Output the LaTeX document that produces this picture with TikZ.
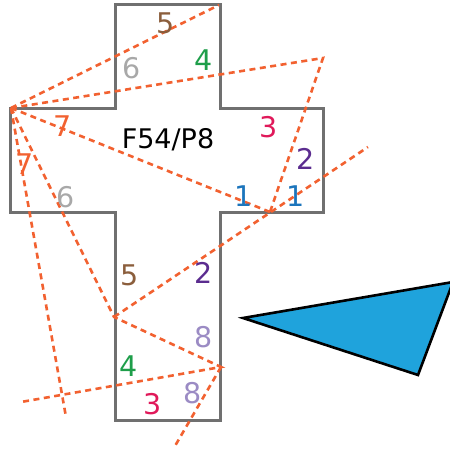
\documentclass[tikz,border=0pt]{standalone}
\usepackage{fontspec}
\setmainfont{DejaVu Sans}
\usetikzlibrary{positioning}
\definecolor{rayorange}{HTML}{F26130}
\definecolor{wallgray}{HTML}{707070}
\definecolor{prism}{HTML}{1FA3DC}
\definecolor{c1}{HTML}{1C75BC}
\definecolor{c2}{HTML}{5B2C8F}
\definecolor{c3}{HTML}{E0195A}
\definecolor{c4}{HTML}{1E9E4A}
\definecolor{c5}{HTML}{8B5E3C}
\definecolor{c6}{HTML}{A8A8A8}
\definecolor{c7}{HTML}{F26130}
\definecolor{c8}{HTML}{9B8BC4}

\begin{document}
\begin{tikzpicture}[x=1pt, y=-1pt,
  ray/.style={draw=rayorange, line width=2.6pt, dash pattern=on 6pt off 4.5pt},
  wall/.style={draw=wallgray, line width=3pt},
  lab/.style={inner sep=0pt, font=\fontsize{28.5}{30}\selectfont}]
\useasboundingbox (0,0) rectangle (450,451);
\clip (0,0) rectangle (450,451);

% cross-shaped room
\draw[wall] (115,4) -- (220,4) -- (220,108) -- (323,108) -- (323,212) -- (220,212)
  -- (220,420) -- (115,420) -- (115,212) -- (10,212) -- (10,108) -- (115,108) -- cycle;

% prism
\filldraw[fill=prism, draw=black, line width=2.6pt] (243,318) -- (453,282) -- (418,375) -- cycle;

% ray points
\coordinate (src) at (11,108);
\coordinate (tr) at (219,5);
\coordinate (far) at (323,58);
\coordinate (hit1) at (270,212);
\coordinate (end1) at (368,147);
\coordinate (hit2) at (114,317);
\coordinate (hit3) at (221,367);
\coordinate (end2) at (66,417);
\coordinate (end3) at (21,402);
\coordinate (end4) at (175,446);

\draw[ray] (src) -- (tr);
\draw[ray] (src) -- (far) -- (hit1);
\draw[ray] (src) -- (hit1);
\draw[ray] (src) -- (end2);
\draw[ray] (src) -- (hit2) -- (hit3) -- (end3);
\draw[ray] (hit3) -- (end4);
\draw[ray] (hit2) -- (end1);

% labels
\node[lab, text=c5] (t5) at (166,23) {5};
\node[lab, text=c6] (t6) at (132,68) {6};
\node[lab, text=c4] (t4) at (204,60) {4};
\node[lab, text=c7] (l7) at (63,126) {7};
\node[lab, text=c7] (m7) at (25,164) {7};
\node[lab, text=c6] (l6) at (66,197) {6};
\node[lab, text=c3] (r3) at (269,127) {3};
\node[lab, text=c2] (r2) at (306,159) {2};
\node[lab, text=c1] (a1) at (244,196) {1};
\node[lab, text=c1] (b1) at (296,196) {1};
\node[lab, text=c5] (b5) at (130,275) {5};
\node[lab, text=c2] (b2) at (204,273) {2};
\node[lab, text=c8] (a8) at (204,337) {8};
\node[lab, text=c4] (b4) at (129,366) {4};
\node[lab, text=c3] (b3) at (153,404) {3};
\node[lab, text=c8] (b8) at (193,393) {8};
\node[inner sep=0pt, anchor=base, font=\fontsize{27}{30}\selectfont] (room) at (168,148) {F54/P8};
\end{tikzpicture}
\end{document}
